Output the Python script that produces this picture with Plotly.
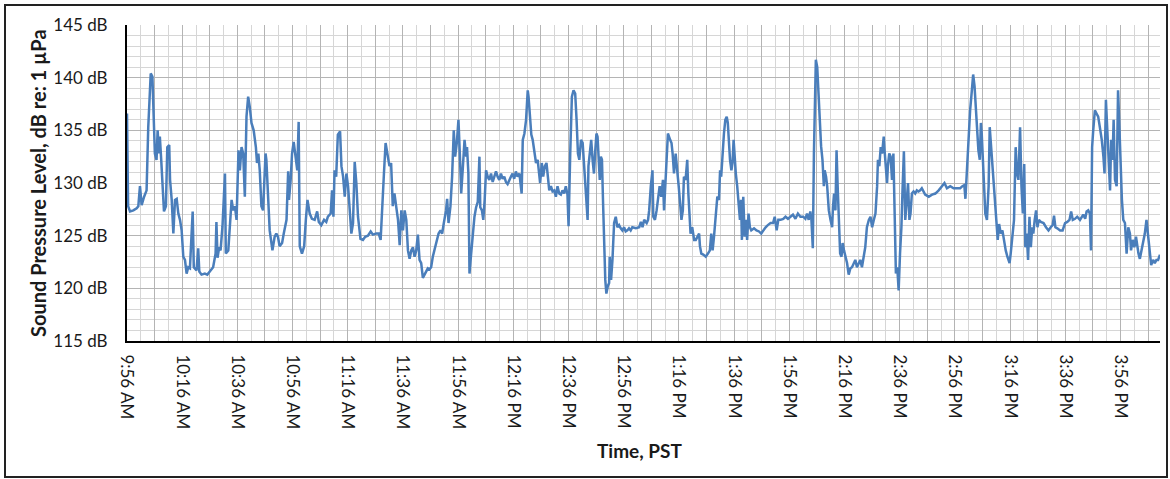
import pandas as pd
import plotly.graph_objects as go

start_time = "2000-01-01 09:56"

minutes = [
    0.0, 0.4, 1.1, 2.3, 3.5, 4.1, 4.7, 5.3, 6.2, 7.1, 7.7, 8.6, 9.2, 9.5, 10.1, 10.7, 11.1, 11.6, 11.9, 12.4,
    12.9, 13.4, 14.1, 14.6, 15.3, 15.6, 16.2, 16.8, 17.4, 18.0, 18.6, 19.2, 19.8, 20.4, 21.0, 21.6, 22.2, 22.8,
    23.8, 24.2, 25.2, 25.8, 26.2, 27.0, 28.2, 29.1, 30.0, 31.2, 32.1, 32.4, 32.8, 33.4, 33.9, 34.6, 35.5, 35.8,
    36.7, 37.3, 37.9, 38.5, 39.1, 39.7, 40.0, 40.4, 40.9, 41.5, 42.1, 42.7, 43.3, 43.9, 44.5, 45.1, 45.9, 46.7,
    47.1, 47.6, 48.1, 48.7, 49.3, 50.2, 50.5, 51.1, 51.7, 52.7, 53.5, 54.1, 54.7, 55.3, 56.2, 56.8, 57.8, 58.4,
    58.7, 59.3, 59.8, 60.4, 61.0, 61.7, 62.2, 62.6, 63.4, 64.2, 64.8, 65.4, 66.2, 67.0, 68.0, 68.9, 69.5, 70.4,
    71.4, 72.2, 72.8, 73.8, 74.3, 74.8, 75.2, 75.8, 76.4, 77.2, 77.7, 78.3, 78.9, 79.5, 80.1, 80.7, 81.3, 81.9,
    82.5, 83.1, 83.7, 84.6, 85.5, 86.3, 87.3, 88.3, 89.1, 90.3, 91.2, 91.9, 92.4, 93.1, 93.7, 94.5, 95.1, 95.7,
    96.3, 96.9, 97.5, 98.2, 98.8, 99.4, 100.0, 100.6, 101.2, 101.8, 102.4, 103.0, 103.6, 104.2, 104.8, 105.4,
    106.0, 106.6, 107.2, 108.0, 109.0, 109.6, 110.2, 110.8, 111.4, 112.3, 112.9, 113.6, 114.2, 114.8, 115.6,
    116.0, 116.5, 117.2, 117.8, 118.4, 118.9, 119.5, 120.1, 120.6, 121.1, 121.7, 122.3, 122.9, 123.2, 123.7,
    124.1, 124.7, 125.3, 125.9, 126.5, 127.1, 127.7, 128.0, 128.6, 129.1, 129.6, 130.1, 130.7, 131.3, 131.9,
    132.5, 133.1, 133.7, 134.3, 134.9, 135.5, 136.1, 136.7, 137.3, 137.9, 138.5, 139.1, 139.7, 140.3, 140.9,
    141.5, 142.2, 142.5, 143.0, 143.4, 144.0, 144.6, 145.2, 145.5, 146.0, 146.5, 147.0, 147.6, 148.2, 148.8,
    149.4, 149.7, 150.3, 150.8, 151.4, 152.0, 152.5, 153.0, 153.6, 154.2, 154.8, 155.4, 156.0, 156.6, 157.2,
    157.8, 158.4, 159.0, 159.6, 160.0, 160.6, 161.2, 161.8, 162.4, 162.9, 163.4, 163.9, 164.5, 165.1, 165.7,
    166.3, 166.9, 167.2, 167.7, 168.2, 168.7, 169.2, 169.6, 170.1, 170.5, 170.8, 171.3, 171.7, 172.1, 172.5,
    172.9, 173.3, 173.7, 174.2, 174.7, 174.9, 175.4, 175.9, 176.5, 177.1, 177.7, 178.3, 178.9, 179.5, 180.1,
    180.7, 181.3, 181.9, 182.5, 183.1, 184.4, 185.6, 186.2, 186.8, 187.4, 188.3, 188.8, 189.2, 189.8, 190.4,
    190.7, 191.3, 191.9, 192.4, 193.0, 193.6, 194.2, 194.6, 195.1, 195.6, 196.0, 196.8, 197.3, 197.7, 198.2,
    198.8, 199.4, 199.9, 200.4, 200.9, 201.4, 201.8, 202.4, 203.0, 203.4, 203.9, 204.2, 204.8, 205.5, 206.1,
    206.7, 207.3, 207.6, 208.1, 208.8, 209.7, 210.5, 211.2, 211.7, 212.2, 212.7, 213.3, 213.9, 214.5, 214.9,
    215.3, 215.8, 216.3, 216.8, 217.3, 217.7, 218.1, 218.5, 219.0, 219.4, 219.8, 220.2, 220.6, 221.1, 221.7,
    222.1, 222.5, 222.8, 223.3, 223.8, 224.3, 224.7, 225.2, 225.7, 226.2, 227.2, 228.1, 229.0, 229.8, 230.5,
    231.4, 232.2, 233.2, 234.1, 234.7, 235.4, 236.0, 236.8, 237.8, 238.6, 239.5, 240.4, 241.3, 242.2, 243.1,
    244.0, 245.0, 245.8, 246.4, 247.0, 247.6, 248.0, 248.5, 248.9, 249.2, 249.6, 250.1, 250.5, 251.0, 251.5,
    252.0, 252.5, 252.8, 253.3, 253.7, 254.3, 254.9, 255.5, 255.8, 256.2, 256.7, 257.1, 257.5, 257.9, 258.4,
    258.9, 259.3, 259.8, 260.3, 260.9, 261.5, 262.1, 262.7, 263.3, 263.9, 264.5, 265.1, 265.7, 266.3, 266.9,
    267.5, 268.1, 268.8, 269.4, 270.0, 270.6, 271.2, 271.8, 272.1, 272.6, 273.1, 273.6, 274.2, 274.5, 275.0,
    275.4, 275.7, 276.2, 276.7, 277.2, 277.7, 278.2, 278.6, 279.1, 279.6, 280.1, 280.6, 281.0, 281.5, 282.0,
    282.5, 283.0, 283.5, 283.9, 284.4, 285.0, 285.6, 286.2, 286.8, 287.4, 288.0, 288.6, 289.2, 290.5, 291.7,
    292.9, 294.1, 295.3, 296.2, 297.1, 298.3, 299.5, 300.7, 301.9, 302.7, 303.4, 303.8, 304.3, 304.9, 305.5,
    306.1, 306.6, 307.1, 307.6, 308.1, 308.5, 309.0, 309.4, 309.7, 310.2, 310.6, 311.0, 311.6, 312.2, 312.6,
    313.1, 313.6, 314.1, 314.6, 315.2, 315.5, 316.0, 316.6, 317.2, 317.8, 318.4, 319.0, 319.8, 320.2, 320.8,
    321.4, 322.0, 322.5, 323.0, 323.6, 324.1, 324.6, 325.1, 325.5, 326.0, 326.5, 327.0, 327.5, 328.0, 328.4,
    328.9, 329.4, 329.9, 330.4, 331.1, 332.1, 333.0, 333.9, 334.7, 335.4, 335.9, 336.4, 337.1, 338.1, 339.0,
    339.9, 340.7, 341.5, 342.1, 342.7, 343.5, 344.3, 345.3, 345.9, 346.5, 347.2, 347.7, 348.3, 348.9, 349.3,
    349.7, 350.1, 350.7, 351.3, 351.9, 352.5, 353.2, 353.8, 354.2, 354.7, 355.2, 355.7, 356.2, 356.6, 357.1,
    357.5, 358.0, 358.6, 359.1, 359.5, 360.0, 360.5, 361.0, 361.6, 362.2, 362.8, 363.4, 363.8, 364.4, 365.0,
    365.6, 366.0, 366.5, 367.0, 367.6, 368.2, 368.8, 369.4, 370.0, 370.6, 371.1, 371.8, 372.4, 373.0, 373.6,
    374.3,
]

spl_db = [
    136.6, 127.8, 127.3, 127.4, 127.6, 127.8, 129.7, 127.9, 128.7, 129.3, 135.3, 140.4, 140.1, 137.6, 132.8, 132.2, 135.0, 132.8, 134.4, 132.2,
    129.7, 127.3, 127.8, 133.4, 133.6, 130.3, 128.4, 125.2, 128.4, 128.5, 127.1, 126.5, 125.5, 123.0, 122.7, 121.4, 122.0, 121.9,
    127.3, 122.0, 121.7, 123.8, 121.6, 121.3, 121.4, 121.3, 121.6, 122.0, 123.3, 126.3, 122.9, 123.9, 123.6, 125.9, 130.9, 123.3,
    123.6, 126.2, 128.4, 127.4, 127.8, 126.5, 129.7, 133.1, 131.2, 133.4, 132.8, 128.7, 136.3, 138.2, 137.2, 135.7, 135.0, 133.4,
    131.9, 132.8, 131.2, 127.8, 127.4, 132.8, 132.2, 128.1, 125.5, 123.6, 124.9, 125.2, 124.9, 124.0, 124.3, 125.2, 126.5, 131.1,
    128.4, 130.3, 132.8, 133.9, 132.5, 131.2, 135.8, 124.0, 123.3, 124.0, 126.5, 128.4, 127.1, 126.6, 126.5, 127.3, 126.3, 126.0,
    126.5, 126.3, 126.8, 127.1, 129.3, 126.8, 131.2, 130.6, 134.6, 134.9, 131.6, 130.6, 128.7, 130.9, 129.7, 127.1, 125.2, 126.2,
    132.0, 130.0, 126.8, 124.7, 124.6, 124.9, 125.0, 125.4, 125.1, 125.2, 125.2, 124.6, 127.9, 130.9, 133.8, 132.5, 131.6, 131.9,
    127.8, 129.0, 127.8, 126.5, 124.1, 127.4, 125.5, 127.4, 126.5, 123.6, 122.8, 123.6, 123.9, 123.0, 123.6, 125.1,
    122.7, 122.4, 121.0, 121.4, 121.9, 121.8, 122.0, 123.0, 123.6, 124.6, 125.2, 125.5, 125.2, 126.2, 127.4,
    128.5, 126.2, 127.8, 130.6, 135.0, 132.5, 133.8, 136.0, 132.8, 129.0, 131.5, 134.1, 132.5, 133.4, 130.9,
    121.4, 123.3, 125.2, 126.8, 127.7, 128.2, 132.5, 127.7, 127.4, 126.5, 128.4, 131.2, 130.6, 130.3, 130.9,
    130.1, 130.6, 131.1, 130.6, 130.3, 130.9, 130.4, 130.6, 130.1, 129.9, 130.3, 130.6, 130.9, 130.4, 131.1,
    130.6, 130.9, 130.0, 129.0, 134.1, 134.7, 136.0, 138.8, 138.2, 136.3, 134.6, 134.1, 132.8, 131.9, 132.2,
    130.3, 130.0, 131.9, 130.6, 131.6, 131.9, 130.6, 129.3, 129.7, 129.2, 129.3, 128.7, 129.7, 129.0, 128.9,
    129.3, 129.0, 129.7, 128.9, 125.9, 132.8, 138.2, 138.8, 138.5, 136.0, 132.8, 132.2, 134.1, 133.8, 131.2,
    129.0, 126.5, 131.6, 132.8, 134.1, 132.2, 130.9, 132.8, 134.7, 134.4, 132.2, 130.3, 132.5, 132.2, 128.1,
    123.3, 120.8, 119.5, 120.2, 120.5, 123.0, 120.8, 122.7, 126.2, 126.8, 125.8, 126.0, 125.7, 125.5, 125.8,
    125.4, 125.5, 125.7, 125.5, 125.8, 125.7, 125.8, 126.3, 125.8, 126.5, 126.2, 126.5, 127.4, 129.7, 131.2,
    126.8, 126.5, 127.4, 128.7, 129.7, 128.7, 130.3, 127.4, 130.3, 133.8, 134.7, 134.1, 133.8, 132.8, 130.9,
    132.8, 130.6, 129.7, 128.1, 126.5, 127.4, 130.6, 130.3, 132.2, 129.0, 126.8, 125.2, 125.8, 124.6, 124.6,
    124.9, 125.2, 124.0, 123.3, 123.2, 123.0, 123.3, 123.6, 125.2, 123.6, 124.9, 126.8, 128.7, 128.4, 131.2,
    130.6, 132.8, 134.7, 136.0, 136.3, 135.7, 133.4, 132.2, 131.2, 131.9, 134.1, 131.9, 130.9, 129.7, 127.8,
    126.5, 128.4, 124.6, 128.7, 124.9, 126.5, 124.6, 127.1, 125.8, 125.5, 125.7, 125.5, 125.4, 125.2, 125.5,
    125.8, 126.0, 126.2, 126.2, 126.8, 125.5, 126.5, 126.5, 126.6, 126.8, 126.6, 126.8, 127.0, 126.6, 127.1,
    126.8, 126.8, 126.6, 127.1, 126.5, 127.3, 126.5, 123.8, 132.8, 136.0, 141.7, 141.0, 138.5, 136.0, 133.5,
    132.2, 129.7, 131.2, 130.6, 129.7, 127.4, 126.5, 125.8, 127.7, 129.0, 127.4, 133.1, 129.7, 126.5, 123.3,
    123.0, 124.3, 123.6, 123.0, 122.4, 121.3, 121.9, 122.0, 122.4, 122.7, 122.0, 122.4, 122.7, 122.0, 123.0,
    123.9, 125.8, 126.5, 126.8, 125.8, 126.5, 127.1, 129.7, 132.2, 131.6, 133.4, 132.8, 134.4, 133.1, 130.9,
    130.0, 131.6, 132.8, 132.5, 130.3, 132.8, 127.8, 121.4, 122.0, 119.8, 123.3, 125.8, 129.3, 133.0, 126.5,
    128.4, 130.0, 126.5, 127.1, 129.0, 129.2, 129.0, 129.3, 129.2, 129.3, 129.5, 129.2, 128.9, 128.7, 128.9,
    129.0, 129.3, 129.7, 130.0, 129.5, 129.7, 129.5, 129.5, 129.5, 129.7, 129.8, 128.5, 131.2, 133.5, 136.9,
    138.7, 140.3, 139.2, 137.2, 135.0, 133.1, 132.2, 135.7, 134.7, 132.2, 130.3, 127.1, 126.5, 129.7, 135.3,
    133.4, 130.9, 129.3, 127.7, 125.8, 124.6, 126.1, 125.2, 125.5, 124.3, 123.6, 123.0, 122.4, 123.3, 124.9,
    126.5, 133.4, 130.9, 130.3, 135.3, 129.7, 127.1, 131.8, 123.9, 125.2, 122.7, 126.8, 123.9, 125.8, 125.2,
    126.5, 127.4, 125.8, 126.5, 126.3, 126.2, 125.8, 125.5, 125.8, 126.0, 126.9, 125.8, 125.7, 125.5, 125.5,
    126.2, 126.3, 126.5, 127.3, 126.5, 126.6, 126.8, 126.5, 126.8, 127.0, 126.6, 127.3, 127.4, 127.1, 123.6,
    133.4, 135.0, 136.9, 136.6, 136.3, 135.3, 134.1, 132.5, 130.9, 137.9, 134.4, 132.2, 129.3, 134.1, 132.2,
    136.0, 130.3, 129.7, 138.8, 136.0, 131.6, 128.4, 126.5, 126.2, 123.3, 125.8, 125.2, 123.6, 124.6, 123.9,
    124.9, 123.9, 123.3, 122.8, 123.6, 124.6, 125.2, 126.5, 124.9, 123.6, 122.2, 122.7, 122.4, 122.7, 122.7,
    123.2,
]

tick_labels = [
    "9:56 AM", "10:16 AM", "10:36 AM", "10:56 AM", "11:16 AM", "11:36 AM", "11:56 AM",
    "12:16 PM", "12:36 PM", "12:56 PM", "1:16 PM", "1:36 PM", "1:56 PM", "2:16 PM",
    "2:36 PM", "2:56 PM", "3:16 PM", "3:36 PM", "3:56 PM",
]

y_ticks = [115, 120, 125, 130, 135, 140, 145]
y_tick_text = ["115 dB", "120 dB", "125 dB", "130 dB", "135 dB", "140 dB", "145 dB"]

t0 = pd.Timestamp(start_time)
times = t0 + pd.to_timedelta(minutes, unit="min")

# major grid every 10 min, labels every 20 min
tickvals = []
ticktext = []
for i, lab in enumerate(tick_labels):
    tickvals.append(t0 + pd.Timedelta(minutes=20 * i))
    ticktext.append(lab)
    tickvals.append(t0 + pd.Timedelta(minutes=20 * i + 10))
    ticktext.append("")

FONT = "Lato"
LINE_BLUE = "#4a7ebb"

fig = go.Figure()
fig.add_trace(go.Scatter(
    x=times, y=spl_db, mode="lines",
    line=dict(color=LINE_BLUE, width=2.5),
    showlegend=False, hoverinfo="skip",
))

fig.update_layout(
    width=1170, height=479,
    margin=dict(l=127, r=10, t=25, b=138),
    paper_bgcolor="white", plot_bgcolor="white",
    font=dict(family=FONT, size=17, color="#1a1a1a"),
    xaxis=dict(
        type="date",
        range=[t0, t0 + pd.Timedelta(minutes=max(minutes))],
        tickvals=tickvals, ticktext=ticktext,
        tickangle=90, ticks="", ticklabelstandoff=8,
        showgrid=True, gridcolor="#b4b4b4", gridwidth=1,
        minor=dict(dtick=5 * 60 * 1000, tick0=t0, showgrid=True, gridcolor="#d6d6d6", gridwidth=1),
        showline=True, linecolor="#000000", linewidth=2,
        zeroline=False, fixedrange=True,
    ),
    yaxis=dict(
        range=[115, 145], tickvals=y_ticks, ticktext=y_tick_text,
        ticks="", ticklabelstandoff=14,
        showgrid=True, gridcolor="#b4b4b4", gridwidth=1,
        minor=dict(dtick=1, showgrid=True, gridcolor="#d6d6d6", gridwidth=1),
        showline=True, linecolor="#000000", linewidth=2,
        zeroline=False, fixedrange=True,
    ),
    annotations=[
        dict(text="<b>Sound Pressure Level, dB re: 1 µPa</b>", xref="paper", yref="paper",
             x=(38 - 127) / 1033, y=0.5, textangle=-90, showarrow=False,
             xanchor="center", yanchor="middle", font=dict(family=FONT, size=20, color="#1a1a1a")),
        dict(text="<b>Time, PST</b>", xref="paper", yref="paper",
             x=0.4965, y=(341 - 450) / 316, showarrow=False,
             xanchor="center", yanchor="middle", font=dict(family=FONT, size=19, color="#1a1a1a")),
    ],
    shapes=[
        dict(type="rect", xref="paper", yref="paper",
             x0=(5 - 127) / 1033, x1=(1167 - 127) / 1033,
             y0=(341 - 477) / 316, y1=(341 - 5) / 316,
             line=dict(color="#222222", width=2), fillcolor="rgba(0,0,0,0)", layer="below"),
    ],
)

fig.write_html("out.html")
